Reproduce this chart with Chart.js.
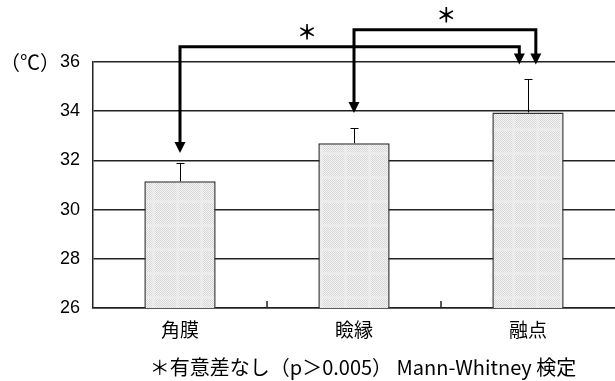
<!DOCTYPE html>
<html>
<head>
<meta charset="utf-8">
<script src="https://cdn.jsdelivr.net/npm/chart.js@4/dist/chart.umd.min.js"></script>
<style>
  html, body { margin: 0; padding: 0; background: #fff; }
  #wrap { width: 615px; height: 381px; }
</style>
</head>
<body>
<div id="wrap"><canvas id="chart"></canvas></div>
<script>
const categories = ['角膜', '瞼縁', '融点'];
const means = [31.15, 32.7, 33.95];
const errTop = [31.9, 33.3, 35.3];
const yTicks = [26, 28, 30, 32, 34, 36];

// significance brackets: from/to category, horizontal level, arrow tip values
const bracketFrom = [0, 1];
const bracketTo = [1.95, 2.045];
const bracketLevel = [36.62, 37.31];
const bracketFromTip = [32.3, 33.93];
const bracketToTip = [35.9, 35.9];
const starAt = [0.73, 1.53];

const unitLabel = '（℃）';
const caption = '＊有意差なし（p＞0.005） Mann-Whitney 検定';

const FONT = "'Liberation Sans', 'Noto Sans CJK JP', sans-serif";
const JFONT = "'Noto Sans CJK JP', 'Liberation Sans', sans-serif";

function makePattern() {
    const c = document.createElement('canvas');
    c.width = 24;
    c.height = 24;
    const g = c.getContext('2d');
    for (let y = 0; y < 24; y++) {
        for (let x = 0; x < 24; x++) {
            const band = (x >= 8 && x < 11) || (y >= 8 && y < 11);
            const dark = (x + y) % 2 === 0;
            if (band) g.fillStyle = dark ? '#e8e8e8' : '#efefef';
            else g.fillStyle = dark ? '#d6d6d6' : '#f4f4f4';
            g.fillRect(x, y, 1, 1);
        }
    }
    return g.createPattern(c, 'repeat');
}

const ctxMain = document.getElementById('chart').getContext('2d');
const barFill = makePattern();

const errorBars = {
    id: 'errorBars',
    afterDatasetsDraw(chart) {
        const ctx = chart.ctx;
        const y = chart.scales.y;
        const meta = chart.getDatasetMeta(0);
        ctx.save();
        ctx.strokeStyle = '#000';
        ctx.lineWidth = 1;
        meta.data.forEach((bar, i) => {
            const top = y.getPixelForValue(errTop[i]);
            const x = Math.round(bar.x) + 0.5;
            ctx.beginPath();
            ctx.moveTo(x, bar.y);
            ctx.lineTo(x, top);
            ctx.moveTo(x - 4, Math.round(top) + 0.5);
            ctx.lineTo(x + 4, Math.round(top) + 0.5);
            ctx.stroke();
        });
        ctx.restore();
    }
};

const innerTicks = {
    id: 'innerTicks',
    afterDraw(chart) {
        const ctx = chart.ctx;
        const x = chart.scales.x;
        const bottom = chart.chartArea.bottom;
        ctx.save();
        ctx.strokeStyle = '#222';
        ctx.lineWidth = 1.5;
        for (let i = 1; i < categories.length; i++) {
            const px = x.getPixelForValue(i - 0.5);
            ctx.beginPath();
            ctx.moveTo(px, bottom);
            ctx.lineTo(px, bottom - 7);
            ctx.stroke();
        }
        ctx.restore();
    }
};

function arrowDown(ctx, x, tipY) {
    ctx.beginPath();
    ctx.moveTo(x, tipY);
    ctx.lineTo(x - 5.5, tipY - 11);
    ctx.lineTo(x + 5.5, tipY - 11);
    ctx.closePath();
    ctx.fill();
}

const brackets = {
    id: 'brackets',
    afterDraw(chart) {
        const ctx = chart.ctx;
        const x = chart.scales.x;
        const y = chart.scales.y;
        ctx.save();
        ctx.strokeStyle = '#000';
        ctx.fillStyle = '#000';
        ctx.lineWidth = 3;
        ctx.lineJoin = 'miter';
        bracketFrom.forEach((from, i) => {
            const x1 = x.getPixelForValue(from);
            const x2 = x.getPixelForValue(bracketTo[i]);
            const ly = y.getPixelForValue(bracketLevel[i]);
            const t1 = y.getPixelForValue(bracketFromTip[i]);
            const t2 = y.getPixelForValue(bracketToTip[i]);
            ctx.beginPath();
            ctx.moveTo(x1, t1 - 10);
            ctx.lineTo(x1, ly);
            ctx.lineTo(x2, ly);
            ctx.lineTo(x2, t2 - 10);
            ctx.stroke();
            arrowDown(ctx, x1, t1);
            arrowDown(ctx, x2, t2);

            ctx.font = 'bold 20px ' + JFONT;
            ctx.textAlign = 'center';
            ctx.textBaseline = 'middle';
            ctx.fillText('＊', x.getPixelForValue(starAt[i]), ly - 14);
        });
        ctx.restore();
    }
};

const texts = {
    id: 'texts',
    afterDraw(chart) {
        const ctx = chart.ctx;
        const area = chart.chartArea;
        ctx.save();
        ctx.fillStyle = '#000';
        ctx.textBaseline = 'middle';
        ctx.font = '20px ' + JFONT;
        ctx.textAlign = 'left';
        ctx.fillText(unitLabel, 0, area.top);
        ctx.font = '20px ' + JFONT;
        ctx.textAlign = 'center';
        ctx.fillText(caption, 363, 367);
        ctx.restore();
    }
};

new Chart(ctxMain, {
    type: 'bar',
    data: {
        labels: categories,
        datasets: [{
            data: means,
            backgroundColor: barFill,
            borderColor: '#333',
            borderWidth: 1.5,
            borderSkipped: false,
            categoryPercentage: 1,
            barPercentage: 0.41,
        }]
    },
    options: {
        responsive: true,
        maintainAspectRatio: false,
        animation: false,
        layout: { padding: { top: 62, right: 0, left: 0, bottom: 0 } },
        plugins: {
            legend: { display: false },
            tooltip: { enabled: false },
        },
        scales: {
            x: {
                grid: { display: false, drawTicks: false },
                border: { display: true, color: '#222', width: 1.5 },
                ticks: {
                    color: '#000',
                    padding: 10,
                    font: { family: JFONT, size: 19 },
                },
                afterFit(scale) { scale.height = 73; },
            },
            y: {
                min: 26,
                max: 36,
                afterBuildTicks(scale) {
                    scale.ticks = yTicks.map((v) => ({ value: v }));
                },
                grid: { color: '#222', lineWidth: 1.5, drawTicks: false },
                border: { display: true, color: '#222', width: 1.5 },
                ticks: {
                    color: '#000',
                    padding: 13,
                    font: { family: FONT, size: 18 },
                },
                afterFit(scale) { scale.width = 93; },
            }
        }
    },
    plugins: [errorBars, innerTicks, brackets, texts]
});
</script>
</body>
</html>
